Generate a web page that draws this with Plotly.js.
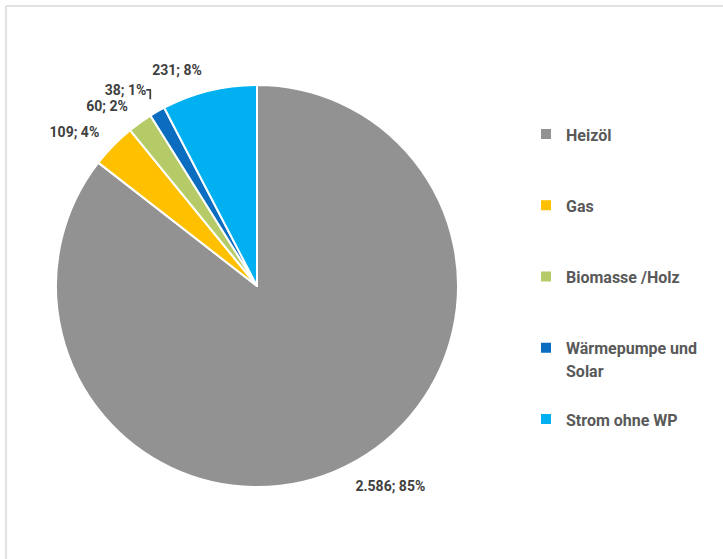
<!DOCTYPE html>
<html>
<head>
<meta charset="utf-8">
<script src="https://cdn.plot.ly/plotly-3.0.1.min.js"></script>
<style>html,body{margin:0;padding:0;background:#fff;}#chart{width:723px;height:559px;}</style>
</head>
<body>
<div id="chart"></div>
<script>
// Data
const categories = ["Heizöl", "Gas", "Biomasse /Holz", "Wärmepumpe und<br>Solar", "Strom ohne WP"];
const values = [2586, 109, 60, 38, 231];
const percentLabels = ["85%", "4%", "2%", "1%", "8%"];
const colors = ["#929292", "#FFC000", "#B5CB68", "#0B6CC0", "#00B0F0"];

const W = 723, H = 559;
const cx = 257, cy = 286, r = 201;
const labelR = r + 14; // labels sit a little further out, as in the reference

function dom(rad) {
  return { x: [(cx - rad) / W, (cx + rad) / W], y: [(H - cy - rad) / H, (H - cy + rad) / H] };
}

// legend labels: visible 16px text, padded lines for Excel-like spacing
const legendLabels = categories.map(c => {
  const parts = c.split("<br>");
  let s = parts.map(p => '<span style="font-size:16px">' + p + '</span>').join("<br>");
  for (let i = parts.length; i < 3; i++) s += "<br> ";
  return s;
});

const labelFont = { family: "Roboto, Arial, sans-serif", size: 14, color: "#404040", weight: "bold" };

const pie = {
  type: "pie",
  labels: legendLabels,
  values: values,
  sort: false,
  direction: "clockwise",
  rotation: 0,
  marker: { colors: colors, line: { color: "#ffffff", width: 2 } },
  textinfo: "none",
  domain: dom(r),
  hoverinfo: "label+value+percent"
};

const labelRing = {
  type: "pie",
  labels: legendLabels,
  values: values,
  text: percentLabels,
  sort: false,
  direction: "clockwise",
  rotation: 0,
  showlegend: false,
  marker: { colors: values.map(() => "rgba(0,0,0,0)"), line: { width: 0 } },
  textposition: "outside",
  texttemplate: "%{value:,.0f}; %{text}",
  outsidetextfont: labelFont,
  textfont: labelFont,
  domain: dom(labelR),
  hoverinfo: "skip"
};

const layout = {
  width: W, height: H,
  margin: { l: 0, r: 0, t: 0, b: 0 },
  paper_bgcolor: "#ffffff",
  separators: ",.",
  showlegend: true,
  legend: {
    x: 526 / W, xanchor: "left",
    y: (H - 116) / H, yanchor: "top",
    valign: "top",
    font: { family: "Roboto, Arial, sans-serif", size: 17.5, color: "#595959", weight: "bold" },
    bgcolor: "rgba(0,0,0,0)"
  },
  shapes: [
    { type: "line", xref: "paper", yref: "paper", x0: 6 / W, x1: 1.01, y0: (H - 6) / H, y1: (H - 6) / H, line: { color: "#d9d9d9", width: 1.5 } },
    { type: "line", xref: "paper", yref: "paper", x0: 6 / W, x1: 6 / W, y0: -0.01, y1: (H - 6) / H, line: { color: "#d9d9d9", width: 1.5 } }
  ]
};

Plotly.newPlot("chart", [pie, labelRing], layout, { displayModeBar: false, staticPlot: true });
</script>
</body>
</html>
